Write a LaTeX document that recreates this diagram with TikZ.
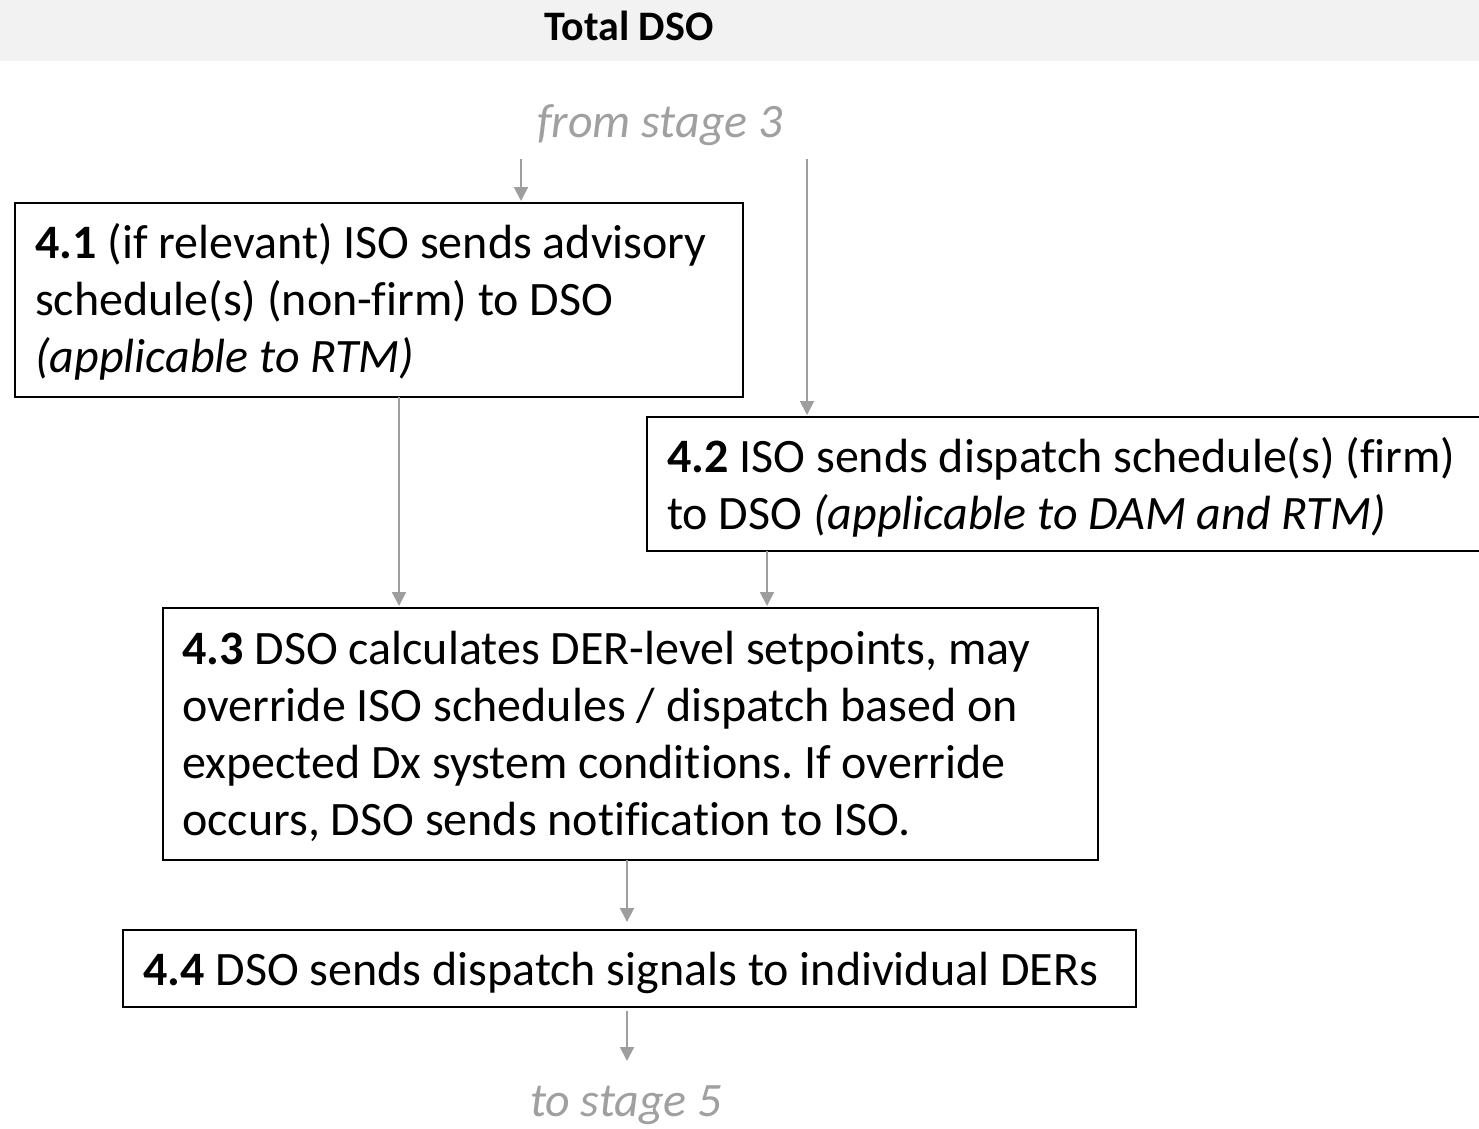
\documentclass[tikz,border=0pt]{standalone}
\usepackage{fontspec}
\setmainfont{Carlito}[Ligatures=NoCommon]
\usetikzlibrary{arrows.meta}

\definecolor{headerfill}{RGB}{242,242,242}
\definecolor{flowgray}{RGB}{158,158,158}
\definecolor{notegray}{RGB}{160,160,160}

\newcommand{\bodyfont}{\fontsize{48}{57}\selectfont\frenchspacing}
\newcommand{\steplines}[1]{\begin{tabular}[t]{@{}l@{}}#1\end{tabular}}

\begin{document}
\begin{tikzpicture}[x=1pt, y=-1pt,
  stepbox/.style={draw=black, line width=1.8pt, rectangle, anchor=north west,
    inner sep=0pt, outer sep=0pt},
  steptext/.style={anchor=base west, inner sep=0pt, font=\bodyfont},
  notetext/.style={anchor=base, inner sep=0pt, text=notegray,
    font=\fontsize{48}{57}\selectfont\itshape},
  flow/.style={draw=flowgray, line width=2pt,
    -{Triangle[length=14pt, width=14pt]}},
]
\useasboundingbox (0,0) rectangle (1479,1128);
\clip (0,0) rectangle (1479,1128);

% header band
\fill[headerfill] (0,0) rectangle (1479,61);
\node[anchor=base, inner sep=0pt, font=\fontsize{42}{50}\selectfont\bfseries]
  (title) at (629,40) {Total DSO};

% incoming / outgoing stage notes
\node[notetext] (fromstage) at (660,137) {from stage 3};
\node[notetext] (tostage) at (626,1116) {to stage 5};

% step boxes
\node[stepbox, minimum width=728pt, minimum height=194pt] (s41) at (15,203) {};
\node[stepbox, minimum width=860pt, minimum height=134pt] (s42) at (647,417) {};
\node[stepbox, minimum width=935pt, minimum height=252pt] (s43) at (163,608) {};
\node[stepbox, minimum width=1013pt, minimum height=77pt] (s44) at (123,930) {};

% step texts
\node[steptext] (t41) at (35,258) {\steplines{\textbf{4.1} (if relevant) ISO sends advisory\\
  schedule(s) (non-firm) to DSO\\ \textit{(applicable to RTM)}}};
\node[steptext] (t42) at (667,472) {\steplines{\textbf{4.2} ISO sends dispatch schedule(s) (firm)\\
  to DSO \textit{(applicable to DAM and RTM)}}};
\node[steptext] (t43) at (182,664) {\steplines{\textbf{4.3} DSO calculates DER-level setpoints, may\\
  override ISO schedules / dispatch based on\\
  expected Dx system conditions. If override\\
  occurs, DSO sends notification to ISO.}};
\node[steptext] (t44) at (143,985) {\textbf{4.4} DSO sends dispatch signals to individual DERs};

% free connector ends
\coordinate (in1) at (521,159);
\coordinate (in2) at (807,159);
\coordinate (out1) at (627,1011);
\coordinate (out2) at (627,1061);

% connectors
\draw[flow, shorten >=2pt] (in1) -- (in1 |- s41.north);
\draw[flow, shorten >=2pt] (in2) -- (in2 |- s42.north);
\draw[flow, shorten >=2pt] (s41.south -| 399,0) -- (s43.north -| 399,0);
\draw[flow, shorten >=2pt] (s42.south -| 767,0) -- (s43.north -| 767,0);
\draw[flow, shorten >=8pt] (s43.south -| 627,0) -- (s44.north -| 627,0);
\draw[flow] (out1) -- (out2);
\end{tikzpicture}
\end{document}
